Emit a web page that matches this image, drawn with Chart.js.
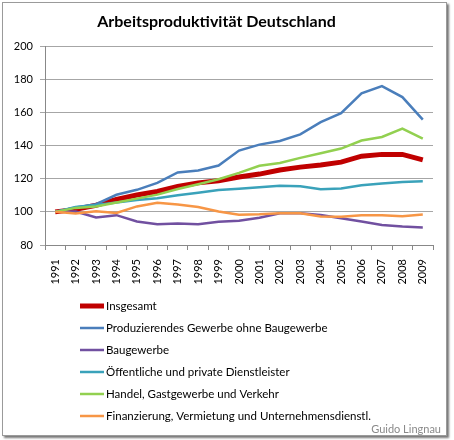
<!DOCTYPE html>
<html>
<head>
<meta charset="utf-8">
<script src="https://cdn.jsdelivr.net/npm/chart.js@4"></script>
<style>
  body { margin: 0; background: #fff; }
  #frame {
    position: absolute; left: 2px; top: 2px; width: 443px; height: 432px;
    border: 1px solid #9a9a9a; box-shadow: 2px 2px 2px #777; background: #fff;
  }
  #chart { position: absolute; left: 0; top: 0; }
</style>
</head>
<body>
<div id="frame"></div>
<canvas id="chart" width="454" height="440"></canvas>
<script>
// Years on the x axis
const years = ['1991', '1992', '1993', '1994', '1995', '1996', '1997', '1998', '1999', '2000',
               '2001', '2002', '2003', '2004', '2005', '2006', '2007', '2008', '2009'];

// Series (index, 1991 = 100)
const insgesamt      = [100, 101.5, 104, 107.5, 110.2, 112.3, 115.3, 117.5, 118.8, 121, 122.8, 125.3, 127, 128.3, 130, 133.6, 134.7, 134.7, 131.4];
const produzierendes = [100, 102.7, 104.6, 110.3, 113.3, 117.5, 123.8, 125, 128, 137, 140.6, 142.8, 146.8, 154.2, 159.6, 171.5, 175.9, 169.3, 155.7];
const baugewerbe     = [100, 100.2, 96.6, 98, 94.2, 92.5, 93, 92.5, 94.1, 94.7, 96.4, 99.1, 99.2, 98.1, 96.1, 94.2, 92.1, 91.1, 90.6];
const oeffentliche   = [100, 103, 104.2, 105.6, 107.2, 108.2, 110, 111.6, 113.2, 114, 114.8, 115.8, 115.4, 113.7, 114.1, 116, 117.1, 118.1, 118.5];
const handel         = [100, 102.4, 103.2, 105.6, 108, 110.4, 113.8, 116.7, 119.7, 123.5, 127.8, 129.5, 132.6, 135.4, 138.2, 143.1, 145.2, 150.2, 144.2];
const finanzierung   = [100, 99, 100.3, 99.3, 103.3, 105.5, 104.4, 102.9, 100.2, 98.2, 98.5, 99.2, 99.2, 97.2, 97.1, 97.9, 97.9, 97.4, 98.4];

const seriesNames = [
  'Insgesamt',
  'Produzierendes Gewerbe ohne Baugewerbe',
  'Baugewerbe',
  'Öffentliche und private Dienstleister',
  'Handel, Gastgewerbe und Verkehr',
  'Finanzierung, Vermietung und Unternehmensdienstl.'
];
const seriesData = [insgesamt, produzierendes, baugewerbe, oeffentliche, handel, finanzierung];
const seriesColors = ['#C00000', '#4A7EBB', '#7150A0', '#3AA2BA', '#92D050', '#F79646'];
const seriesWidths = [5, 2.5, 2.5, 2.5, 2.5, 2.5];

const FONT = 'Lato, "Open Sans", sans-serif';

// Legend drawn as a single column under the axis, like the original
const columnLegend = {
  id: 'columnLegend',
  afterDraw(chart) {
    const ctx = chart.ctx;
    ctx.save();
    ctx.font = '11.5px ' + FONT;
    ctx.textBaseline = 'middle';
    chart.data.datasets.forEach((ds, i) => {
      const y = 306 + i * 22;
      ctx.strokeStyle = ds.borderColor;
      ctx.lineWidth = ds.borderWidth;
      ctx.beginPath();
      ctx.moveTo(80, y);
      ctx.lineTo(104, y);
      ctx.stroke();
      ctx.fillStyle = '#000';
      ctx.fillText(ds.label, 106, y);
    });
    // watermark
    ctx.font = '11px ' + FONT;
    ctx.fillStyle = '#8a8a8a';
    ctx.textAlign = 'right';
    ctx.fillText('Guido Lingnau', 441, 429);
    ctx.restore();
  }
};

const datasets = seriesNames.map((name, i) => ({
  label: name,
  data: seriesData[i],
  borderColor: seriesColors[i],
  backgroundColor: seriesColors[i],
  borderWidth: seriesWidths[i],
  pointRadius: 0,
  tension: 0,
  fill: false,
  order: seriesNames.length - i
}));

new Chart(document.getElementById('chart').getContext('2d'), {
  type: 'line',
  data: { labels: years, datasets: datasets },
  plugins: [columnLegend],
  options: {
    responsive: false,
    animation: false,
    layout: { padding: { left: 0, right: 21, top: 0, bottom: 155 } },
    plugins: {
      legend: { display: false },
      tooltip: { enabled: false },
      title: {
        display: true,
        text: 'Arbeitsproduktivität Deutschland',
        color: '#000',
        font: { family: FONT, size: 16, weight: 'bold' },
        padding: { top: 12, bottom: 15 }
      }
    },
    scales: {
      x: {
        offset: true,
        grid: { drawOnChartArea: false, offset: true, tickLength: 5, color: '#888' },
        border: { color: '#888' },
        ticks: {
          autoSkip: false,
          minRotation: 90,
          maxRotation: 90,
          padding: 9,
          color: '#000',
          font: { family: FONT, size: 11 }
        },
        afterFit(scale) { scale.height = 40; }
      },
      y: {
        min: 80,
        max: 200,
        grid: { color: '#a6a6a6', tickLength: 5 },
        border: { color: '#888' },
        ticks: {
          stepSize: 20,
          padding: 7,
          color: '#000',
          font: { family: FONT, size: 11 }
        },
        afterFit(scale) { scale.width = 45; }
      }
    }
  }
});
</script>
</body>
</html>
